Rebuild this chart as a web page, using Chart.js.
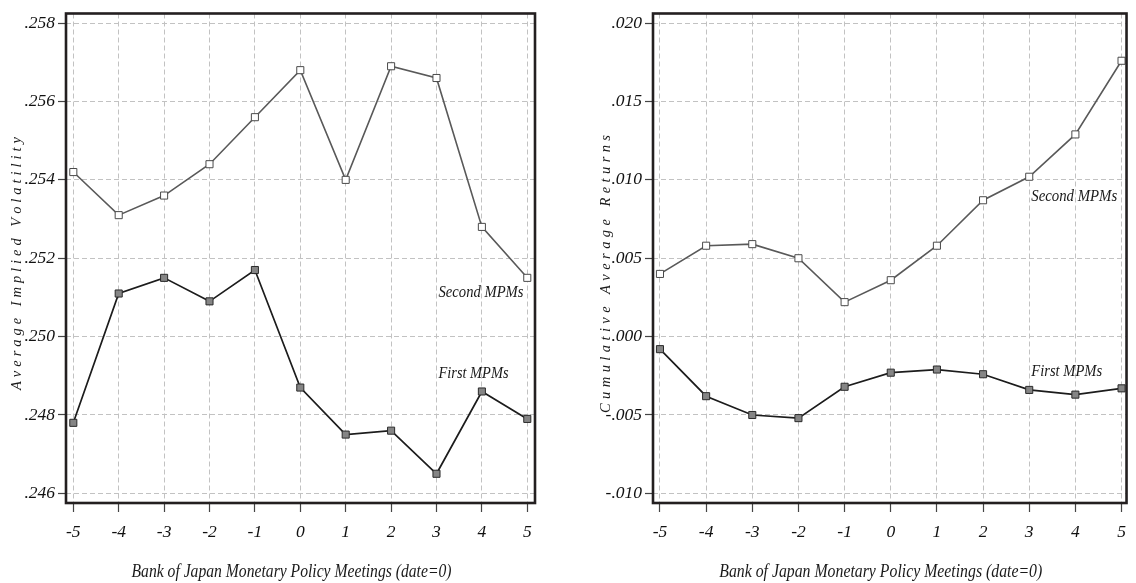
<!DOCTYPE html>
<html>
<head>
<meta charset="utf-8">
<script src="https://cdn.jsdelivr.net/npm/chart.js@4.4.1/dist/chart.umd.min.js"></script>
<style>
  html, body { margin: 0; padding: 0; background: #fff; }
  .panel { position: absolute; top: 0; width: 568px; height: 583px; }
  #leftPanel { left: 0; }
  #rightPanel { left: 568px; }
</style>
</head>
<body>
<div class="panel" id="leftPanel"><canvas id="volChart"></canvas></div>
<div class="panel" id="rightPanel"><canvas id="retChart"></canvas></div>
<script>
// Tage omkring BoJ-møderne
const days = [-5, -4, -3, -2, -1, 0, 1, 2, 3, 4, 5];

// Venstre panel: gennemsnitlig implied volatility
const volSecond = [0.2542, 0.2531, 0.2536, 0.2544, 0.2556, 0.2568, 0.2540, 0.2569, 0.2566, 0.2528, 0.2515];
const volFirst  = [0.2478, 0.2511, 0.2515, 0.2509, 0.2517, 0.2487, 0.2475, 0.2476, 0.2465, 0.2486, 0.2479];
const volTicks  = [0.246, 0.248, 0.250, 0.252, 0.254, 0.256, 0.258];

// Højre panel: kumulative gennemsnitlige afkast
const retSecond = [0.0040, 0.0058, 0.0059, 0.0050, 0.0022, 0.0036, 0.0058, 0.0087, 0.0102, 0.0129, 0.0176];
const retFirst  = [-0.0008, -0.0038, -0.0050, -0.0052, -0.0032, -0.0023, -0.0021, -0.0024, -0.0034, -0.0037, -0.0033];
const retTicks  = [-0.010, -0.005, 0.000, 0.005, 0.010, 0.015, 0.020];

const xTitle = 'Bank of Japan Monetary Policy Meetings (date=0)';
const seriesNames = ['Second MPMs', 'First MPMs'];

const SERIF = '"Liberation Serif", "Times New Roman", serif';

function fmtTick(v) {
    const s = Math.abs(v).toFixed(3).replace(/^0/, '');
    return v < -1e-9 ? '-' + s : s;
}

// Tegner tekst smallere (kondenseret serif som i originalen)
function drawCondensed(ctx, text, x, y, size, targetW, align) {
    ctx.save();
    ctx.font = 'italic ' + size + 'px ' + SERIF;
    ctx.textBaseline = 'alphabetic';
    ctx.textAlign = 'left';
    const w = ctx.measureText(text).width;
    const sx = targetW / w;
    let left = x;
    if (align === 'center') left = x - targetW / 2;
    ctx.translate(left, y);
    ctx.scale(sx, 1);
    ctx.fillText(text, 0, 0);
    ctx.restore();
}

// Lodret titel med spredte bogstaver
function drawSpacedVertical(ctx, text, cx, cy, size, len) {
    ctx.save();
    ctx.font = 'italic ' + size + 'px ' + SERIF;
    ctx.textBaseline = 'alphabetic';
    ctx.textAlign = 'left';
    ctx.translate(cx, cy);
    ctx.rotate(-Math.PI / 2);
    const chars = text.split('');
    const widths = chars.map(c => ctx.measureText(c).width);
    const total = widths.reduce((a, b) => a + b, 0);
    const gap = (len - total) / (chars.length - 1);
    let pos = -len / 2;
    chars.forEach((c, i) => {
        ctx.fillText(c, pos, 0);
        pos += widths[i] + gap;
    });
    ctx.restore();
}

const framePlugin = {
    id: 'frame',
    afterDatasetsDraw(chart, args, o) {
        const { ctx, chartArea: a } = chart;
        ctx.save();
        ctx.strokeStyle = '#231f20';
        ctx.lineWidth = 2.6;
        ctx.strokeRect(a.left, a.top, a.right - a.left, a.bottom - a.top);
        ctx.restore();
    },
    afterDraw(chart, args, o) {
        const { ctx, chartArea: a, scales } = chart;
        ctx.fillStyle = '#1a1a1a';
        // akse-titler
        drawSpacedVertical(ctx, o.yTitle, o.yTitleX, o.yTitleY, 14.5, o.yTitleLen);
        drawCondensed(ctx, xTitle, (a.left + a.right) / 2 - 9, 576.5, 18.5, o.xTitleW, 'center');
        // serie-navne ved kurverne
        o.labels.forEach((lb, i) => {
            const px = scales.x.getPixelForValue(lb[0]);
            const py = scales.y.getPixelForValue(lb[1]);
            drawCondensed(ctx, seriesNames[i], px + 2, py, 17, lb[2], 'left');
        });
    }
};

function makeChart(id, cfg) {
    const tickFont = { family: SERIF, style: 'italic', size: 17.5 };
    const step = cfg.yTicks[1] - cfg.yTicks[0];
    const ypad = step * 0.123;
    const toXY = arr => days.map((d, i) => ({ x: d, y: arr[i] }));
    return new Chart(document.getElementById(id), {
        type: 'line',
        data: {
            datasets: [
                {
                    label: seriesNames[0],
                    data: toXY(cfg.second),
                    borderColor: '#595959',
                    borderWidth: 1.6,
                    pointStyle: 'rect',
                    pointRadius: 5,
                    pointBackgroundColor: '#ffffff',
                    pointBorderColor: '#4a4a4a',
                    pointBorderWidth: 1,
                    tension: 0
                },
                {
                    label: seriesNames[1],
                    data: toXY(cfg.first),
                    borderColor: '#1c1c1c',
                    borderWidth: 1.7,
                    pointStyle: 'rect',
                    pointRadius: 5,
                    pointBackgroundColor: '#858585',
                    pointBorderColor: '#2a2a2a',
                    pointBorderWidth: 1,
                    tension: 0
                }
            ]
        },
        options: {
            responsive: true,
            maintainAspectRatio: false,
            animation: false,
            layout: { padding: { top: 11, right: cfg.padRight, left: 0, bottom: 0 } },
            plugins: {
                legend: { display: false },
                tooltip: { enabled: false },
                frame: cfg.frame
            },
            scales: {
                x: {
                    type: 'linear',
                    min: days[0] - cfg.xPadL,
                    max: days[days.length - 1] + cfg.xPadR,
                    afterBuildTicks: s => { s.ticks = days.map(v => ({ value: v })); },
                    afterFit: s => { s.height = 80; },
                    ticks: { autoSkip: false, maxRotation: 0, padding: 10, font: tickFont, color: '#111', callback: v => String(v) },
                    grid: { color: '#c2c2c2', lineWidth: 1, tickLength: 9, tickColor: '#444', tickWidth: 1.2, tickBorderDash: [] },
                    border: { display: false, dash: [5, 3] }
                },
                y: {
                    type: 'linear',
                    min: cfg.yTicks[0] - ypad,
                    max: cfg.yTicks[cfg.yTicks.length - 1] + ypad,
                    afterBuildTicks: s => { s.ticks = cfg.yTicks.map(v => ({ value: v })); },
                    afterFit: s => { s.width = cfg.axisW; },
                    ticks: { autoSkip: false, padding: 3, font: tickFont, color: '#111', callback: fmtTick },
                    grid: { color: '#c2c2c2', lineWidth: 1, tickLength: 8, tickColor: '#444', tickWidth: 1.2, tickBorderDash: [] },
                    border: { display: false, dash: [5, 3] }
                }
            }
        },
        plugins: [framePlugin]
    });
}

makeChart('volChart', {
    second: volSecond, first: volFirst, yTicks: volTicks,
    axisW: 66, padRight: 33, xPadL: 0.161, xPadR: 0.17,
    frame: {
        yTitle: 'Average Implied Volatility', yTitleX: 20.5, yTitleY: 263.5, yTitleLen: 253,
        xTitleW: 320,
        labels: [[3, 0.2510, 85], [3, 0.24895, 70]]
    }
});

makeChart('retChart', {
    second: retSecond, first: retFirst, yTicks: retTicks,
    axisW: 85, padRight: 8, xPadL: 0.151, xPadR: 0.108,
    frame: {
        yTitle: 'Cumulative Average Returns', yTitleX: 42, yTitleY: 274, yTitleLen: 278,
        xTitleW: 323,
        labels: [[3, 0.00868, 86], [3, -0.0025, 71]]
    }
});
</script>
</body>
</html>
